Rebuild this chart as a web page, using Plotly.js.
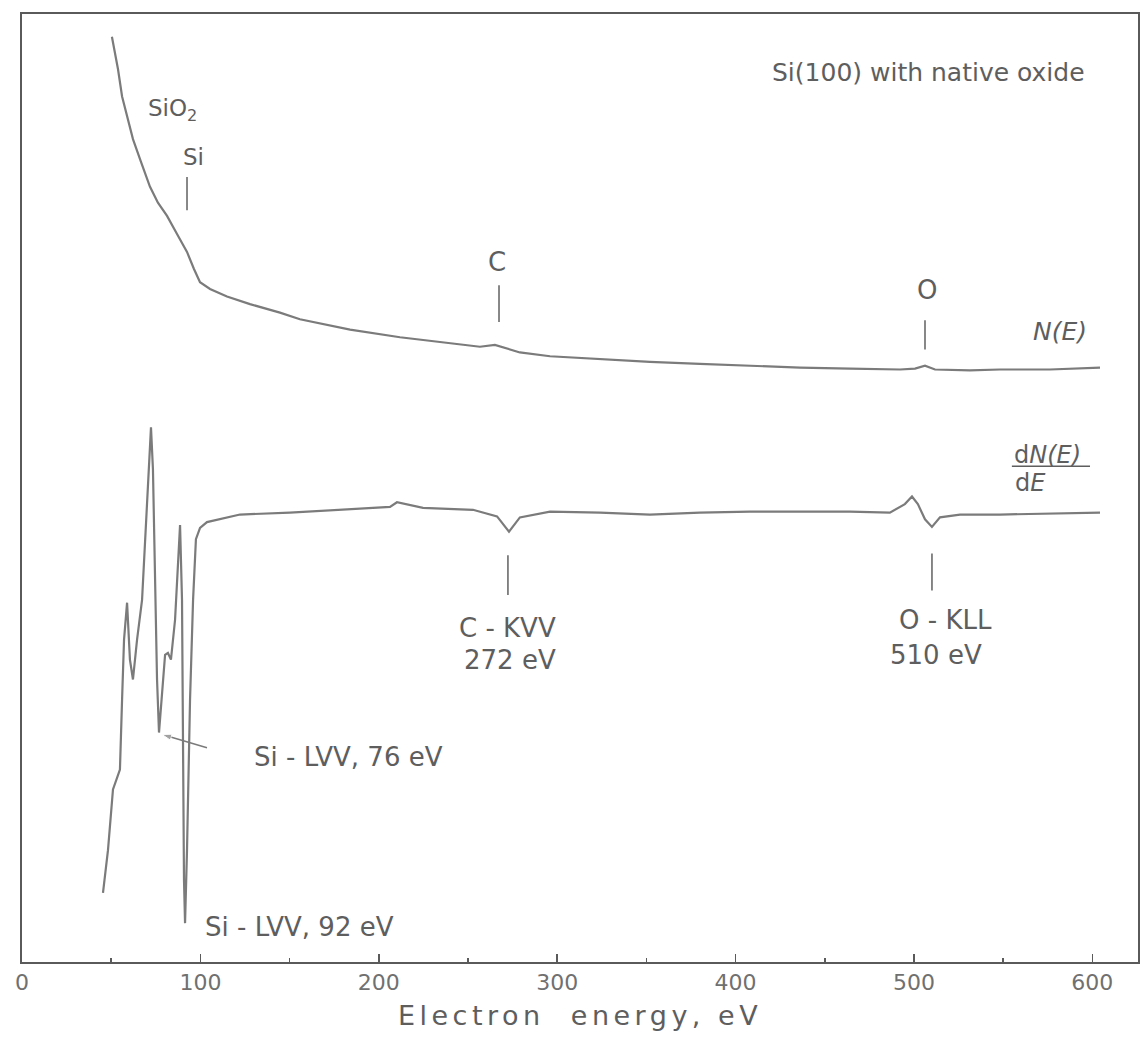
<!DOCTYPE html>
<html>
<head>
<meta charset="utf-8">
<script src="https://cdn.plot.ly/plotly-3.0.1.min.js"></script>
<style>
  html, body { margin: 0; padding: 0; background: #fff; }
  #chart { width: 1143px; height: 1048px; }
  .xtitle { letter-spacing: 4.5px; }
</style>
</head>
<body>
<div id="chart"></div>
<script>
// ---- Data (x: electron energy in eV, y: arbitrary intensity units) ----
const nE_energy = [50.4, 53.8, 56.1, 58.9, 62.2, 66.7, 71.7, 76.2, 81.3, 86.9, 92.5, 96.4, 99.8, 105.4, 114.9, 127.8, 144.6, 155.8, 183.9, 211.9, 239.9, 256.7, 265.1, 270.7, 279.1, 296.0, 324.0, 352.0, 380.0, 408.1, 436.1, 464.1, 492.2, 500.6, 506.2, 511.8, 531.4, 548.2, 576.2, 604.3];
const nE_intensity = [97.6, 94.2, 91.3, 89.1, 86.8, 84.4, 81.8, 80.1, 78.7, 76.8, 74.9, 73.1, 71.7, 71.0, 70.2, 69.4, 68.5, 67.8, 66.7, 65.9, 65.3, 64.9, 65.1, 64.8, 64.3, 63.9, 63.6, 63.3, 63.1, 62.9, 62.7, 62.6, 62.5, 62.6, 62.9, 62.5, 62.4, 62.5, 62.5, 62.7];

const dnE_energy = [45.4, 48.2, 51.0, 54.9, 56.1, 57.2, 58.9, 60.5, 62.2, 64.5, 67.3, 69.5, 71.2, 72.3, 73.4, 74.6, 75.7, 76.8, 78.5, 80.2, 81.8, 83.5, 85.8, 87.4, 88.6, 89.7, 90.2, 90.8, 91.4, 92.5, 94.2, 95.9, 97.5, 99.8, 103.7, 122.2, 150.2, 178.3, 206.3, 210.2, 224.8, 252.8, 266.3, 273.0, 279.1, 296.0, 324.0, 352.0, 380.0, 408.1, 436.1, 464.1, 486.5, 494.9, 498.9, 502.2, 506.2, 510.1, 514.6, 525.8, 548.2, 576.2, 604.3];
const dnE_intensity = [7.3, 11.8, 18.2, 20.3, 27.7, 34.0, 37.9, 31.9, 29.8, 34.0, 38.2, 46.7, 53.0, 56.4, 52.0, 40.3, 29.8, 24.2, 28.7, 32.4, 32.6, 31.9, 36.1, 42.4, 46.1, 38.2, 22.4, 8.7, 4.1, 11.8, 27.7, 38.2, 44.6, 45.8, 46.4, 47.2, 47.4, 47.7, 48.0, 48.5, 47.9, 47.7, 47.0, 45.4, 46.9, 47.5, 47.4, 47.2, 47.4, 47.5, 47.5, 47.5, 47.4, 48.3, 49.1, 48.3, 46.7, 45.9, 46.9, 47.2, 47.2, 47.3, 47.4];

const tickValues = [0, 100, 200, 300, 400, 500, 600];
const tickLabels = ["0", "100", "200", "300", "400", "500", "600"];

// Peak marker lines: energy, lower and upper intensity
const markerEnergy = [92.5, 267.4, 506.2, 272.4, 510.1];
const markerLow    = [79.3, 67.5, 64.6, 38.7, 39.2];
const markerHigh   = [82.8, 71.4, 67.7, 42.9, 43.1];

// Text labels
const labelText = ["SiO<sub>2</sub>", "Si", "C", "O", "Si(100) with native oxide", "<i>N(E)</i>", "d<i>N(E)</i>", "d<i>E</i>", "C - KVV", "272 eV", "O - KLL", "510 eV", "Si - LVV, 76 eV", "Si - LVV, 92 eV"];
const labelX    = [84.1, 95.9, 266.3, 507.3, 597.0, 581.8, 554.9, 555.5, 272.4, 273.5, 517.9, 512.3, 129.0, 101.5];
const labelY    = [89.9, 84.9, 73.8, 70.9, 93.8, 66.5, 53.5, 50.5, 35.2, 31.9, 36.1, 32.4, 21.6, 3.7];
const labelAnchor = ["center", "center", "center", "center", "right", "center", "left", "left", "center", "center", "center", "center", "left", "left"];
const labelSize = [23, 23, 26, 26, 25, 25, 24, 24, 26, 26, 26, 26, 26, 26];

// Arrow pointing at the 76 eV minimum: tail then head
const arrowX = [103.7, 78.5];
const arrowY = [22.6, 24.0];

// Fraction bar of dN(E)/dE
const fracBarX = [554.9, 598.7];
const fracBarY = 52.3;

// ---- Styling ----
const curveColor = "#7b7b7b";
const textColor = "#5e5e5e";
const axisColor = "#5a5a5a";
const FONT = "DejaVu Sans, Verdana, sans-serif";

const traces = [
  { x: nE_energy, y: nE_intensity, mode: "lines", type: "scatter",
    line: { color: curveColor, width: 2.2 }, hoverinfo: "skip", showlegend: false },
  { x: dnE_energy, y: dnE_intensity, mode: "lines", type: "scatter",
    line: { color: curveColor, width: 2.2 }, hoverinfo: "skip", showlegend: false },
  { x: arrowX, y: arrowY, mode: "lines+markers", type: "scatter",
    line: { color: curveColor, width: 1.6 },
    marker: { symbol: "arrow", angleref: "previous", size: [0, 10], color: curveColor },
    hoverinfo: "skip", showlegend: false }
];

const shapes = markerEnergy.map((e, i) => ({
  type: "line", xref: "x", yref: "y",
  x0: e, x1: e, y0: markerLow[i], y1: markerHigh[i],
  line: { color: curveColor, width: 1.8 }
}));
shapes.push({ type: "line", xref: "x", yref: "y",
  x0: fracBarX[0], x1: fracBarX[1], y0: fracBarY, y1: fracBarY,
  line: { color: textColor, width: 1.5 } });

const annotations = labelText.map((t, i) => ({
  text: t, x: labelX[i], y: labelY[i], xref: "x", yref: "y",
  xanchor: labelAnchor[i], yanchor: "middle", showarrow: false,
  font: { family: FONT, size: labelSize[i], color: textColor }
}));

const layout = {
  width: 1143, height: 1048,
  margin: { l: 22, r: 5, t: 14, b: 86 },
  paper_bgcolor: "#ffffff", plot_bgcolor: "#ffffff",
  showlegend: false,
  xaxis: {
    range: [0, 625.6],
    tickmode: "array", tickvals: tickValues, ticktext: tickLabels,
    ticks: "inside", ticklen: 8, tickwidth: 1.5, tickcolor: axisColor,
    minor: { ticks: "inside", ticklen: 4, tickwidth: 1.5, tickcolor: axisColor, dtick: 50, showgrid: false },
    showline: true, mirror: true, linecolor: axisColor, linewidth: 2,
    showgrid: false, zeroline: false,
    tickfont: { family: FONT, size: 22, color: "#707070" },
    title: { text: "Electron  energy, eV", standoff: 12,
             font: { family: FONT, size: 27, color: textColor } }
  },
  yaxis: {
    range: [0, 100],
    showticklabels: false, ticks: "",
    showline: true, mirror: true, linecolor: axisColor, linewidth: 2,
    showgrid: false, zeroline: false
  },
  shapes: shapes,
  annotations: annotations
};

Plotly.newPlot("chart", traces, layout, { staticPlot: true, displayModeBar: false });
</script>
</body>
</html>
